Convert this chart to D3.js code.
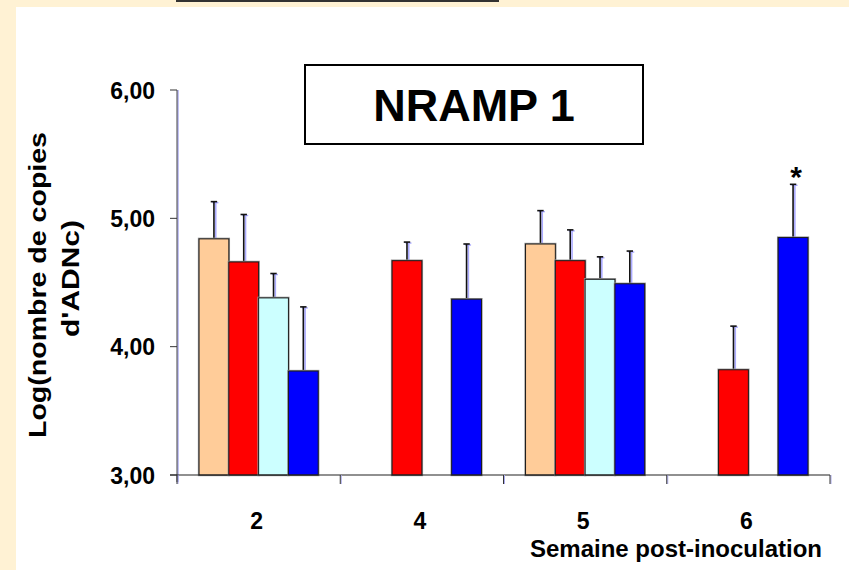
<!DOCTYPE html>
<html>
<head>
<meta charset="utf-8">
<script src="https://cdn.jsdelivr.net/npm/d3@7"></script>
<style>
  html, body { margin: 0; padding: 0; background: #FFF2D4; }
  svg { display: block; }
  text { font-family: "Liberation Sans", Arial, sans-serif; font-weight: bold; fill: #000; }
</style>
</head>
<body>
<script>
// ---- data ----
const weeks = ["2", "4", "5", "6"];
const seriesNames = ["A", "B", "C", "D"];
const seriesColors = ["#FFCC99", "#FF0000", "#CCFFFF", "#0000FF"];
const valuesA = [4.84, null, 4.80, null];
const valuesB = [4.66, 4.67, 4.67, 3.82];
const valuesC = [4.38, null, 4.525, null];
const valuesD = [3.81, 4.37, 4.49, 4.85];
const errorsA = [0.29, null, 0.26, null];
const errorsB = [0.37, 0.145, 0.24, 0.34];
const errorsC = [0.19, null, 0.175, null];
const errorsD = [0.50, 0.43, 0.255, 0.415];
const yTicks = [3, 4, 5, 6];
const yTickLabels = ["3,00", "4,00", "5,00", "6,00"];
const title = "NRAMP 1";
const yTitle1 = "Log(nombre de copies";
const yTitle2 = "d'ADNc)";
const xTitle = "Semaine post-inoculation";
const significance = [null, null, null, "*"]; // on series D

const allValues = [valuesA, valuesB, valuesC, valuesD];
const allErrors = [errorsA, errorsB, errorsC, errorsD];

const W = 849, H = 570;
const svg = d3.select("body").append("svg").attr("width", W).attr("height", H);

// background panel
svg.append("rect").attr("x", 16).attr("y", 7).attr("width", W - 16).attr("height", H - 7).attr("fill", "#FFFFFF");
svg.append("line").attr("x1", 176).attr("x2", 499).attr("y1", 1).attr("y2", 1)
  .attr("stroke", "#333").attr("stroke-width", 2);

const y = d3.scaleLinear().domain([3, 6]).range([475, 90]);
const x = d3.scaleBand().domain(weeks).range([177, 830]).paddingInner(0).paddingOuter(0);
const bw = x.bandwidth();
const xi = d3.scaleBand().domain(seriesNames).range([bw * 0.135, bw * 0.865]).padding(0);

// bars data
const bars = [];
weeks.forEach((w, wi) => {
  seriesNames.forEach((s, si) => {
    const v = allValues[si][wi];
    if (v != null) bars.push({ w, s, si, v, e: allErrors[si][wi], sig: si === 3 ? significance[wi] : null });
  });
});

// error bars (behind bars)
const eg = svg.append("g");
bars.forEach(b => {
  const cx = x(b.w) + xi(b.s) + xi.bandwidth() / 2;
  const top = y(b.v + b.e), base = y(b.v);
  eg.append("line").attr("x1", cx + 1.8).attr("x2", cx + 1.8).attr("y1", top + 1).attr("y2", base)
    .attr("stroke", "#AAAAFF").attr("stroke-width", 1.6);
  eg.append("line").attr("x1", cx - 1.5).attr("x2", cx + 4.5).attr("y1", top + 1).attr("y2", top + 1)
    .attr("stroke", "#AAAAFF").attr("stroke-width", 1.4);
  eg.append("line").attr("x1", cx).attr("x2", cx).attr("y1", top).attr("y2", base)
    .attr("stroke", "#111").attr("stroke-width", 1.6);
  eg.append("line").attr("x1", cx - 3.2).attr("x2", cx + 3.2).attr("y1", top).attr("y2", top)
    .attr("stroke", "#111").attr("stroke-width", 1.6);
});

// bars
const bg = svg.append("g");
bars.forEach(b => {
  const bx = x(b.w) + xi(b.s);
  bg.append("rect").attr("x", bx).attr("y", y(b.v)).attr("width", xi.bandwidth()).attr("height", y(3) - y(b.v))
    .attr("fill", "none").attr("stroke", "#999").attr("stroke-width", 2.4);
  bg.append("rect").attr("x", bx).attr("y", y(b.v)).attr("width", xi.bandwidth()).attr("height", y(3) - y(b.v))
    .attr("fill", seriesColors[b.si]).attr("stroke", "#1a1a1a").attr("stroke-width", 1);
  if (b.sig) {
    svg.append("text").attr("x", x(b.w) + xi(b.s) + xi.bandwidth() / 2 + 3).attr("y", 187)
      .attr("text-anchor", "middle").style("font-size", "30px").text(b.sig);
  }
});

// y axis
const yAxis = svg.append("g");
yAxis.append("line").attr("x1", 178).attr("x2", 178).attr("y1", 90).attr("y2", 482)
  .attr("stroke", "#9999EE").attr("stroke-width", 1.2);
yAxis.append("line").attr("x1", 177).attr("x2", 177).attr("y1", 90).attr("y2", 482)
  .attr("stroke", "#444").attr("stroke-width", 1);
yTicks.forEach((t, i) => {
  yAxis.append("line").attr("x1", 170).attr("x2", 177).attr("y1", y(t)).attr("y2", y(t))
    .attr("stroke", "#333").attr("stroke-width", 1);
  yAxis.append("text").attr("x", 155).attr("y", y(t) + 8.5).attr("text-anchor", "end")
    .style("font-size", "23px").text(yTickLabels[i]);
});

// x axis
const xAxis = svg.append("g");
xAxis.append("line").attr("x1", 170).attr("x2", 830).attr("y1", 475).attr("y2", 475)
  .attr("stroke", "#222").attr("stroke-width", 1.2);
const tickXs = weeks.map(w => x(w)).concat([x(weeks[weeks.length - 1]) + bw]);
tickXs.forEach(tx => {
  xAxis.append("line").attr("x1", tx + 1).attr("x2", tx + 1).attr("y1", 475).attr("y2", 484)
    .attr("stroke", "#AAAAEE").attr("stroke-width", 1);
  xAxis.append("line").attr("x1", tx).attr("x2", tx).attr("y1", 475).attr("y2", 484)
    .attr("stroke", "#333").attr("stroke-width", 1);
});
weeks.forEach(w => {
  xAxis.append("text").attr("x", x(w) + bw / 2 - 2).attr("y", 529).attr("text-anchor", "middle")
    .style("font-size", "23px").text(w);
});
svg.append("text").attr("x", 822).attr("y", 557).attr("text-anchor", "end")
  .style("font-size", "24px").text(xTitle);

// y title
svg.append("text").attr("transform", "translate(46,285) rotate(-90)").attr("text-anchor", "middle")
  .style("font-size", "23px").attr("textLength", 306).attr("lengthAdjust", "spacingAndGlyphs").text(yTitle1);
svg.append("text").attr("transform", "translate(79,278.5) rotate(-90)").attr("text-anchor", "middle")
  .style("font-size", "23px").attr("textLength", 117).attr("lengthAdjust", "spacingAndGlyphs").text(yTitle2);

// title box
svg.append("rect").attr("x", 305).attr("y", 65).attr("width", 338).attr("height", 79)
  .attr("fill", "#fff").attr("stroke", "#000").attr("stroke-width", 2);
svg.append("text").attr("x", 474).attr("y", 121).attr("text-anchor", "middle")
  .style("font-size", "45px").text(title);
</script>
</body>
</html>
